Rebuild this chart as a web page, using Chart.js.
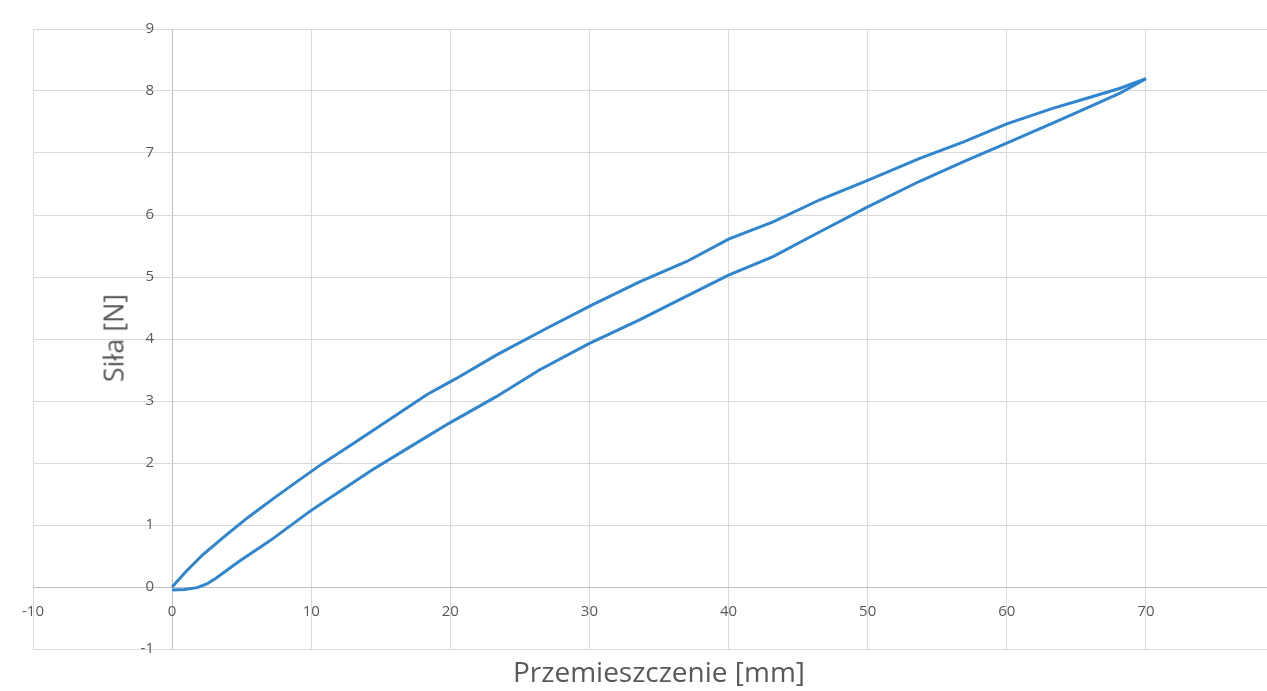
<!DOCTYPE html>
<html>
<head>
<meta charset="utf-8">
<script src="https://cdn.jsdelivr.net/npm/chart.js@4.4.0/dist/chart.umd.min.js"></script>
<style>
  html, body { margin: 0; padding: 0; background: #fff; overflow: hidden; }
  .wrap { position: relative; width: 1300px; height: 691px; }
  .axis-title { position: absolute; font-family: 'Open Sans', sans-serif; color: #595959; line-height: 1; white-space: nowrap; }
  .x-title { left: 659px; top: 657px; font-size: 28px; transform: translateX(-50%); }
  .y-title { left: 113px; top: 338px; font-size: 27px; transform: translate(-50%, -50%) rotate(-90deg); }
</style>
</head>
<body>
<div class="wrap">
  <canvas id="chart" width="1300" height="691"></canvas>
  <div class="axis-title x-title">Przemieszczenie [mm]</div>
  <div class="axis-title y-title">Siła [N]</div>
</div>
<script>
// upper branch of the loop, from the origin up to 70 mm
const upperX = [0, 1.0, 2.2, 3.9, 5.5, 7.3, 9.1, 10.8, 13.0, 15.9, 18.3, 20.4, 23.3, 26.9, 30.2, 33.6, 37.0, 40.0, 43.2, 46.6, 50.0, 53.7, 56.9, 60.0, 63.3, 65.7, 68.1, 70.0]
const upperY = [0, 0.25, 0.52, 0.84, 1.13, 1.43, 1.72, 1.99, 2.31, 2.74, 3.10, 3.36, 3.74, 4.17, 4.55, 4.92, 5.25, 5.61, 5.89, 6.25, 6.56, 6.91, 7.18, 7.47, 7.72, 7.88, 8.04, 8.20]

// lower branch, from 70 mm back to the origin
const lowerX = [70.0, 68.1, 65.7, 63.3, 60.0, 56.9, 53.7, 50.0, 46.4, 43.2, 40.0, 36.7, 33.6, 30.0, 26.4, 23.3, 19.9, 17.1, 14.4, 11.5, 9.9, 7.0, 4.8, 3.2, 2.5, 1.8, 0.9, 0]
const lowerY = [8.20, 7.96, 7.72, 7.48, 7.16, 6.86, 6.54, 6.13, 5.71, 5.33, 5.03, 4.66, 4.31, 3.93, 3.50, 3.07, 2.64, 2.26, 1.89, 1.46, 1.22, 0.74, 0.41, 0.15, 0.05, -0.01, -0.04, -0.05]

const xTicks = [-10, 0, 10, 20, 30, 40, 50, 60, 70]
const yTicks = [-1, 0, 1, 2, 3, 4, 5, 6, 7, 8, 9]

const lineColor = '#2F86CF'
const gridColor = '#d9d9d9'
const axisColor = '#bfbfbf'
const textColor = '#595959'
const tickFont = { family: 'Open Sans', size: 15 }

const toPoints = (xs, ys) => xs.map((x, i) => ({ x, y: ys[i] }))

// axes sit inside the plot (crossing at zero), so they take no room of their own
const flatten = (scale) => {
  if (scale.isHorizontal()) { scale.height = 0 } else { scale.width = 0 }
  scale.paddingLeft = scale.paddingRight = scale.paddingTop = scale.paddingBottom = 0
}

const gridLine = (c) => (c.tick && c.tick.value === 0 ? axisColor : gridColor)

const chartData = {
  datasets: [
    { data: toPoints(upperX, upperY) },
    { data: toPoints(lowerX, lowerY) }
  ].map(ds => Object.assign(ds, {
    showLine: true,
    fill: false,
    borderColor: lineColor,
    backgroundColor: lineColor,
    borderWidth: 3,
    pointRadius: 0,
    tension: 0
  }))
}

const options = {
  responsive: false,
  animation: false,
  layout: { padding: { left: 33, top: 29, right: 15, bottom: 42 } },
  plugins: { legend: { display: false }, tooltip: { enabled: false } },
  scales: {
    x: {
      type: 'linear',
      min: -10,
      max: 80,
      position: { y: 0 },
      afterFit: flatten,
      afterBuildTicks: (scale) => { scale.ticks = xTicks.map(value => ({ value })) },
      grid: { color: gridLine, drawTicks: false },
      border: { display: true, color: axisColor },
      ticks: { padding: 16, color: textColor, font: tickFont, maxRotation: 0, autoSkip: false }
    },
    y: {
      type: 'linear',
      min: -1,
      max: 9,
      position: { x: -1.3 },
      afterFit: flatten,
      afterBuildTicks: (scale) => { scale.ticks = yTicks.map(value => ({ value })) },
      grid: { color: gridLine, drawTicks: false },
      border: { display: false },
      ticks: { color: textColor, font: tickFont, autoSkip: false }
    }
  }
}

const ctx = document.getElementById('chart').getContext('2d')

/* eslint-disable no-new */
new Chart(ctx, {
  type: 'scatter',
  data: chartData,
  options
})
</script>
</body>
</html>
